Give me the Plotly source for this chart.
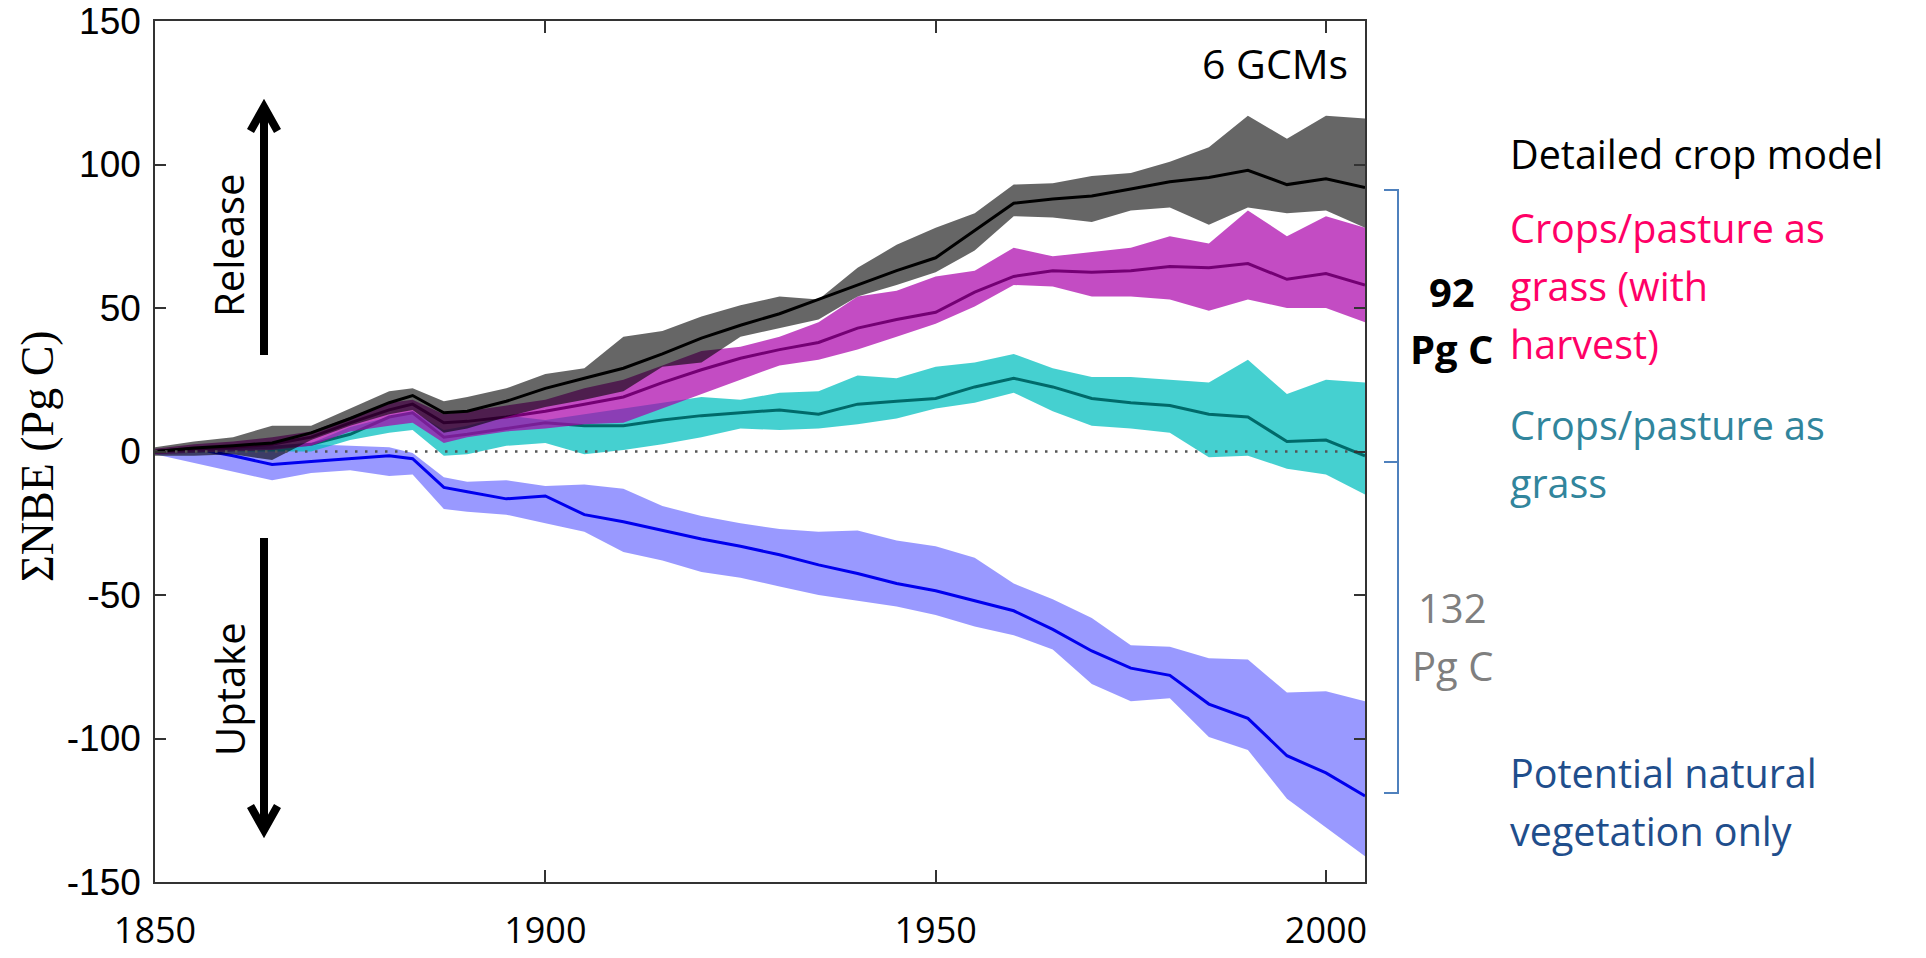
import plotly.graph_objects as go

# ---------------- data ----------------
years = [1850, 1855, 1860, 1865, 1870, 1875, 1880, 1883, 1887, 1890, 1895,
         1900, 1905, 1910, 1915, 1920, 1925, 1930, 1935, 1940, 1945, 1950,
         1955, 1960, 1965, 1970, 1975, 1980, 1985, 1990, 1995, 2000, 2005]

# Detailed crop model (black)
crop_mean = [0, 1.2, 2, 3, 6.5, 11.5, 17, 19.5, 13.5, 14, 17.5,
             22, 25.5, 29, 34, 39.5, 44, 48, 53, 58, 63, 67.5,
             77, 86.5, 88, 89, 91.5, 94, 95.5, 98, 93, 95, 92]
crop_hi = [1.5, 3.5, 5, 9, 9, 15, 21, 22, 17.5, 19, 22,
           27, 29, 40, 42, 47, 51, 54, 53, 64, 72, 78,
           83, 93, 93.5, 96, 97, 101, 106, 117, 109, 117, 116]
crop_lo = [-1.5, -1.5, -1, -3, 4, 9, 13, 14.5, 6.5, 8, 12,
           15.5, 18, 21, 29.5, 31, 40, 43, 46, 54, 58, 62.5,
           70, 82, 81.5, 80, 84, 85, 79, 85, 83, 84, 78]

# Crops/pasture as grass (with harvest) (magenta)
harv_mean = [0, 1, 1.5, 2.5, 5, 10, 14.5, 16.5, 10, 10.5, 12,
             14, 16.5, 19, 24, 28.5, 32.5, 35.5, 38, 43, 46, 48.5,
             55.5, 61, 63, 62.5, 63, 64.5, 64, 65.5, 60, 62, 58]
harv_hi = [1, 2.5, 3.5, 5, 7, 12, 17, 18, 13, 14, 16,
           18, 22, 25, 30, 35, 36.5, 40, 45, 54, 56, 61,
           63, 71, 68, 69.5, 71, 75, 72.5, 84, 75, 82, 78]
harv_lo = [-1, -0.5, 0, 0.5, 2, 7, 9, 10, 3, 5, 7,
           8, 9.5, 10, 15, 20, 25, 30, 32, 35.5, 40, 44.5,
           50.5, 58, 57.5, 54, 54, 53, 49, 53, 50, 50, 45]

# Crops/pasture as grass (cyan)
grass_mean = [0, 0.5, 1, 1.5, 2.5, 6, 12, 13.5, 5, 6, 8,
              10, 9, 9, 11, 12.5, 13.5, 14.5, 13, 16.5, 17.5, 18.5,
              22.5, 25.5, 22.5, 18.5, 17, 16, 13, 12, 3.5, 4, -1.5]
grass_hi = [0.5, 1, 1.5, 2, 3, 8.5, 12, 14, 7.5, 9, 12.5,
            11, 13, 15, 17, 19, 18, 20.5, 21, 26.5, 25.5, 29.5,
            31, 34, 29, 26, 26, 25, 24, 32, 20, 25, 24]
grass_lo = [-0.5, -0.5, 0, 0, 0, 4, 6.5, 7.5, -1.5, -1, 2,
            3, -1, 0.5, 2.5, 5, 8, 7.5, 8, 9.5, 11.5, 15,
            17, 20.5, 14, 9, 8, 6.5, -2, -1.5, -6, -8, -15]

# Potential natural vegetation only (blue)
pnv_mean = [0, 1, -1.5, -4.5, -3.5, -2.5, -1.5, -2.5, -12.5, -14, -16.5,
            -15.5, -22, -24.5, -27.5, -30.5, -33, -36, -39.5, -42.5, -46, -48.5,
            -52, -55.5, -62, -69.5, -75.5, -78, -88, -93, -106, -112, -120]
pnv_hi = [0.5, 1.5, 0, 0.5, 2.5, 2, 1.5, -0.5, -9, -10.5, -10,
          -12, -11.5, -13, -19, -22.5, -25, -27, -28, -27.5, -31, -33,
          -37, -46, -51.5, -58, -67.5, -68, -72, -72.5, -84, -83.5, -87]
pnv_lo = [-1, -4, -7, -10, -7.5, -6.5, -8.5, -8, -20, -21, -22,
          -25, -28, -35, -38, -42, -44, -47, -50, -52, -54, -57,
          -61, -64, -69, -81, -87, -86, -99.5, -104, -121, -131, -141]

x_tickvals = [1850, 1900, 1950, 2000]
x_ticktext = ["1850", "1900", "1950", "2000"]
y_tickvals = [-150, -100, -50, 0, 50, 100, 150]
y_ticktext = ["-150", "-100", "-50", "0", "50", "100", "150"]

series = [
    # name, mean, hi, lo, fill, line colour
    ("Potential natural vegetation only", pnv_mean, pnv_hi, pnv_lo,
     "rgba(0,0,255,0.40)", "#0000EE"),
    ("Crops/pasture as grass", grass_mean, grass_hi, grass_lo,
     "rgba(0,190,190,0.73)", "#006A6A"),
    ("Crops/pasture as grass (with harvest)", harv_mean, harv_hi, harv_lo,
     "rgba(170,0,170,0.70)", "#740074"),
    ("Detailed crop model", crop_mean, crop_hi, crop_lo,
     "rgba(0,0,0,0.60)", "#000000"),
]

fig = go.Figure()
for name, mean, hi, lo, fillc, linec in series:
    fig.add_trace(go.Scatter(
        x=years + years[::-1], y=hi + lo[::-1], mode="lines",
        fill="toself", fillcolor=fillc, line=dict(width=0, color=fillc),
        hoverinfo="skip", showlegend=False))
    fig.add_trace(go.Scatter(
        x=years, y=mean, mode="lines", name=name,
        line=dict(color=linec, width=3), showlegend=False))

# dotted zero line
fig.add_trace(go.Scatter(
    x=[1850, 2005], y=[0, 0], mode="lines",
    line=dict(color="#555555", width=2.5, dash="2.5px,7.5px"),
    hoverinfo="skip", showlegend=False))

# ---------------- layout ----------------
fig.update_layout(
    width=1926, height=958,
    margin=dict(l=155, r=561, t=21, b=76, autoexpand=False),
    paper_bgcolor="white", plot_bgcolor="white",
    showlegend=False,
)
fig.update_xaxes(
    range=[1850, 2005], tickvals=x_tickvals, ticktext=x_ticktext,
    ticks="inside", ticklen=12, tickwidth=1.5, tickcolor="#333333",
    showline=True, linecolor="#333333", linewidth=1.5, mirror="allticks",
    showgrid=False, zeroline=False, ticklabelstandoff=16, automargin=False,
    tickfont=dict(family="Open Sans", size=36, color="black"),
)
fig.update_yaxes(
    range=[-150, 150], tickvals=y_tickvals, ticktext=y_ticktext,
    ticks="inside", ticklen=11, tickwidth=1.5, tickcolor="#333333",
    showline=True, linecolor="#333333", linewidth=1.5, mirror="allticks",
    showgrid=False, zeroline=False, ticklabelstandoff=5, automargin=False,
    tickfont=dict(family="Liberation Sans, Arial", size=37, color="black"),
)

def px_x(px):
    return (px - 155) / 1210.0

def px_y(py):
    return (882 - py) / 861.0

ann = []
# y-axis title
ann.append(dict(text="ΣNBE (Pg C)", xref="paper", yref="paper",
                x=px_x(37), y=px_y(456), xanchor="center", yanchor="middle",
                textangle=-90, showarrow=False,
                font=dict(family="Liberation Serif, Times New Roman", size=46, color="black")))
# 6 GCMs
ann.append(dict(text="6 GCMs", xref="paper", yref="paper",
                x=px_x(1350), y=px_y(63), xanchor="right", yanchor="middle",
                showarrow=False, font=dict(family="Open Sans", size=41, color="black")))
# Release / Uptake
for txt, yc in [("Release", 246), ("Uptake", 689)]:
    ann.append(dict(text=txt, xref="paper", yref="paper",
                    x=px_x(229), y=px_y(yc), xanchor="center", yanchor="middle",
                    textangle=-90, showarrow=False,
                    font=dict(family="Open Sans", size=40, color="black")))

# right-hand labels
right_lines = [
    ("Detailed crop model", 154, "black"),
    ("Crops/pasture as", 228, "#FF0066"),
    ("grass (with", 286, "#FF0066"),
    ("harvest)", 344, "#FF0066"),
    ("Crops/pasture as", 425, "#31859C"),
    ("grass", 483, "#31859C"),
    ("Potential natural", 773, "#1F4E8C"),
    ("vegetation only", 831, "#1F4E8C"),
]
for txt, yc, col in right_lines:
    ann.append(dict(text=txt, xref="paper", yref="paper",
                    x=px_x(1508), y=px_y(yc), xanchor="left", yanchor="middle",
                    showarrow=False, font=dict(family="Open Sans", size=39.5, color=col)))

for txt, yc, col, bold in [("92", 291, "black", True), ("Pg C", 348, "black", True),
                           ("132", 607, "#7F7F7F", False), ("Pg C", 665, "#7F7F7F", False)]:
    ann.append(dict(text="<b>%s</b>" % txt if bold else txt, xref="paper", yref="paper",
                    x=px_x(1452), y=px_y(yc), xanchor="center", yanchor="middle",
                    showarrow=False, font=dict(family="Open Sans", size=40, color=col)))
fig.update_layout(annotations=ann)

# arrows and bracket (decorations)
shapes = []
ax = px_x(264)
adx = 13.5 / 1210.0
# Release (up)
shapes.append(dict(type="line", xref="paper", yref="paper",
                   x0=ax, x1=ax, y0=px_y(355), y1=px_y(107),
                   line=dict(color="black", width=8)))
shapes.append(dict(type="path", xref="paper", yref="paper",
                   path="M %f,%f L %f,%f L %f,%f" % (ax - adx, px_y(131), ax, px_y(107), ax + adx, px_y(131)),
                   line=dict(color="black", width=8)))
# Uptake (down)
shapes.append(dict(type="line", xref="paper", yref="paper",
                   x0=ax, x1=ax, y0=px_y(538), y1=px_y(830),
                   line=dict(color="black", width=8)))
shapes.append(dict(type="path", xref="paper", yref="paper",
                   path="M %f,%f L %f,%f L %f,%f" % (ax - adx, px_y(806), ax, px_y(830), ax + adx, px_y(806)),
                   line=dict(color="black", width=8)))
# bracket
bx0, bx1 = px_x(1384), px_x(1398)
by_top, by_mid, by_bot = px_y(190), px_y(462), px_y(793)
shapes.append(dict(type="path", xref="paper", yref="paper",
                   path="M %f,%f L %f,%f L %f,%f L %f,%f" % (bx0, by_top, bx1, by_top, bx1, by_bot, bx0, by_bot),
                   line=dict(color="#4F81BD", width=2)))
shapes.append(dict(type="line", xref="paper", yref="paper",
                   x0=bx0, x1=bx1, y0=by_mid, y1=by_mid,
                   line=dict(color="#4F81BD", width=2)))
fig.update_layout(shapes=shapes)

fig.write_html("out.html")
